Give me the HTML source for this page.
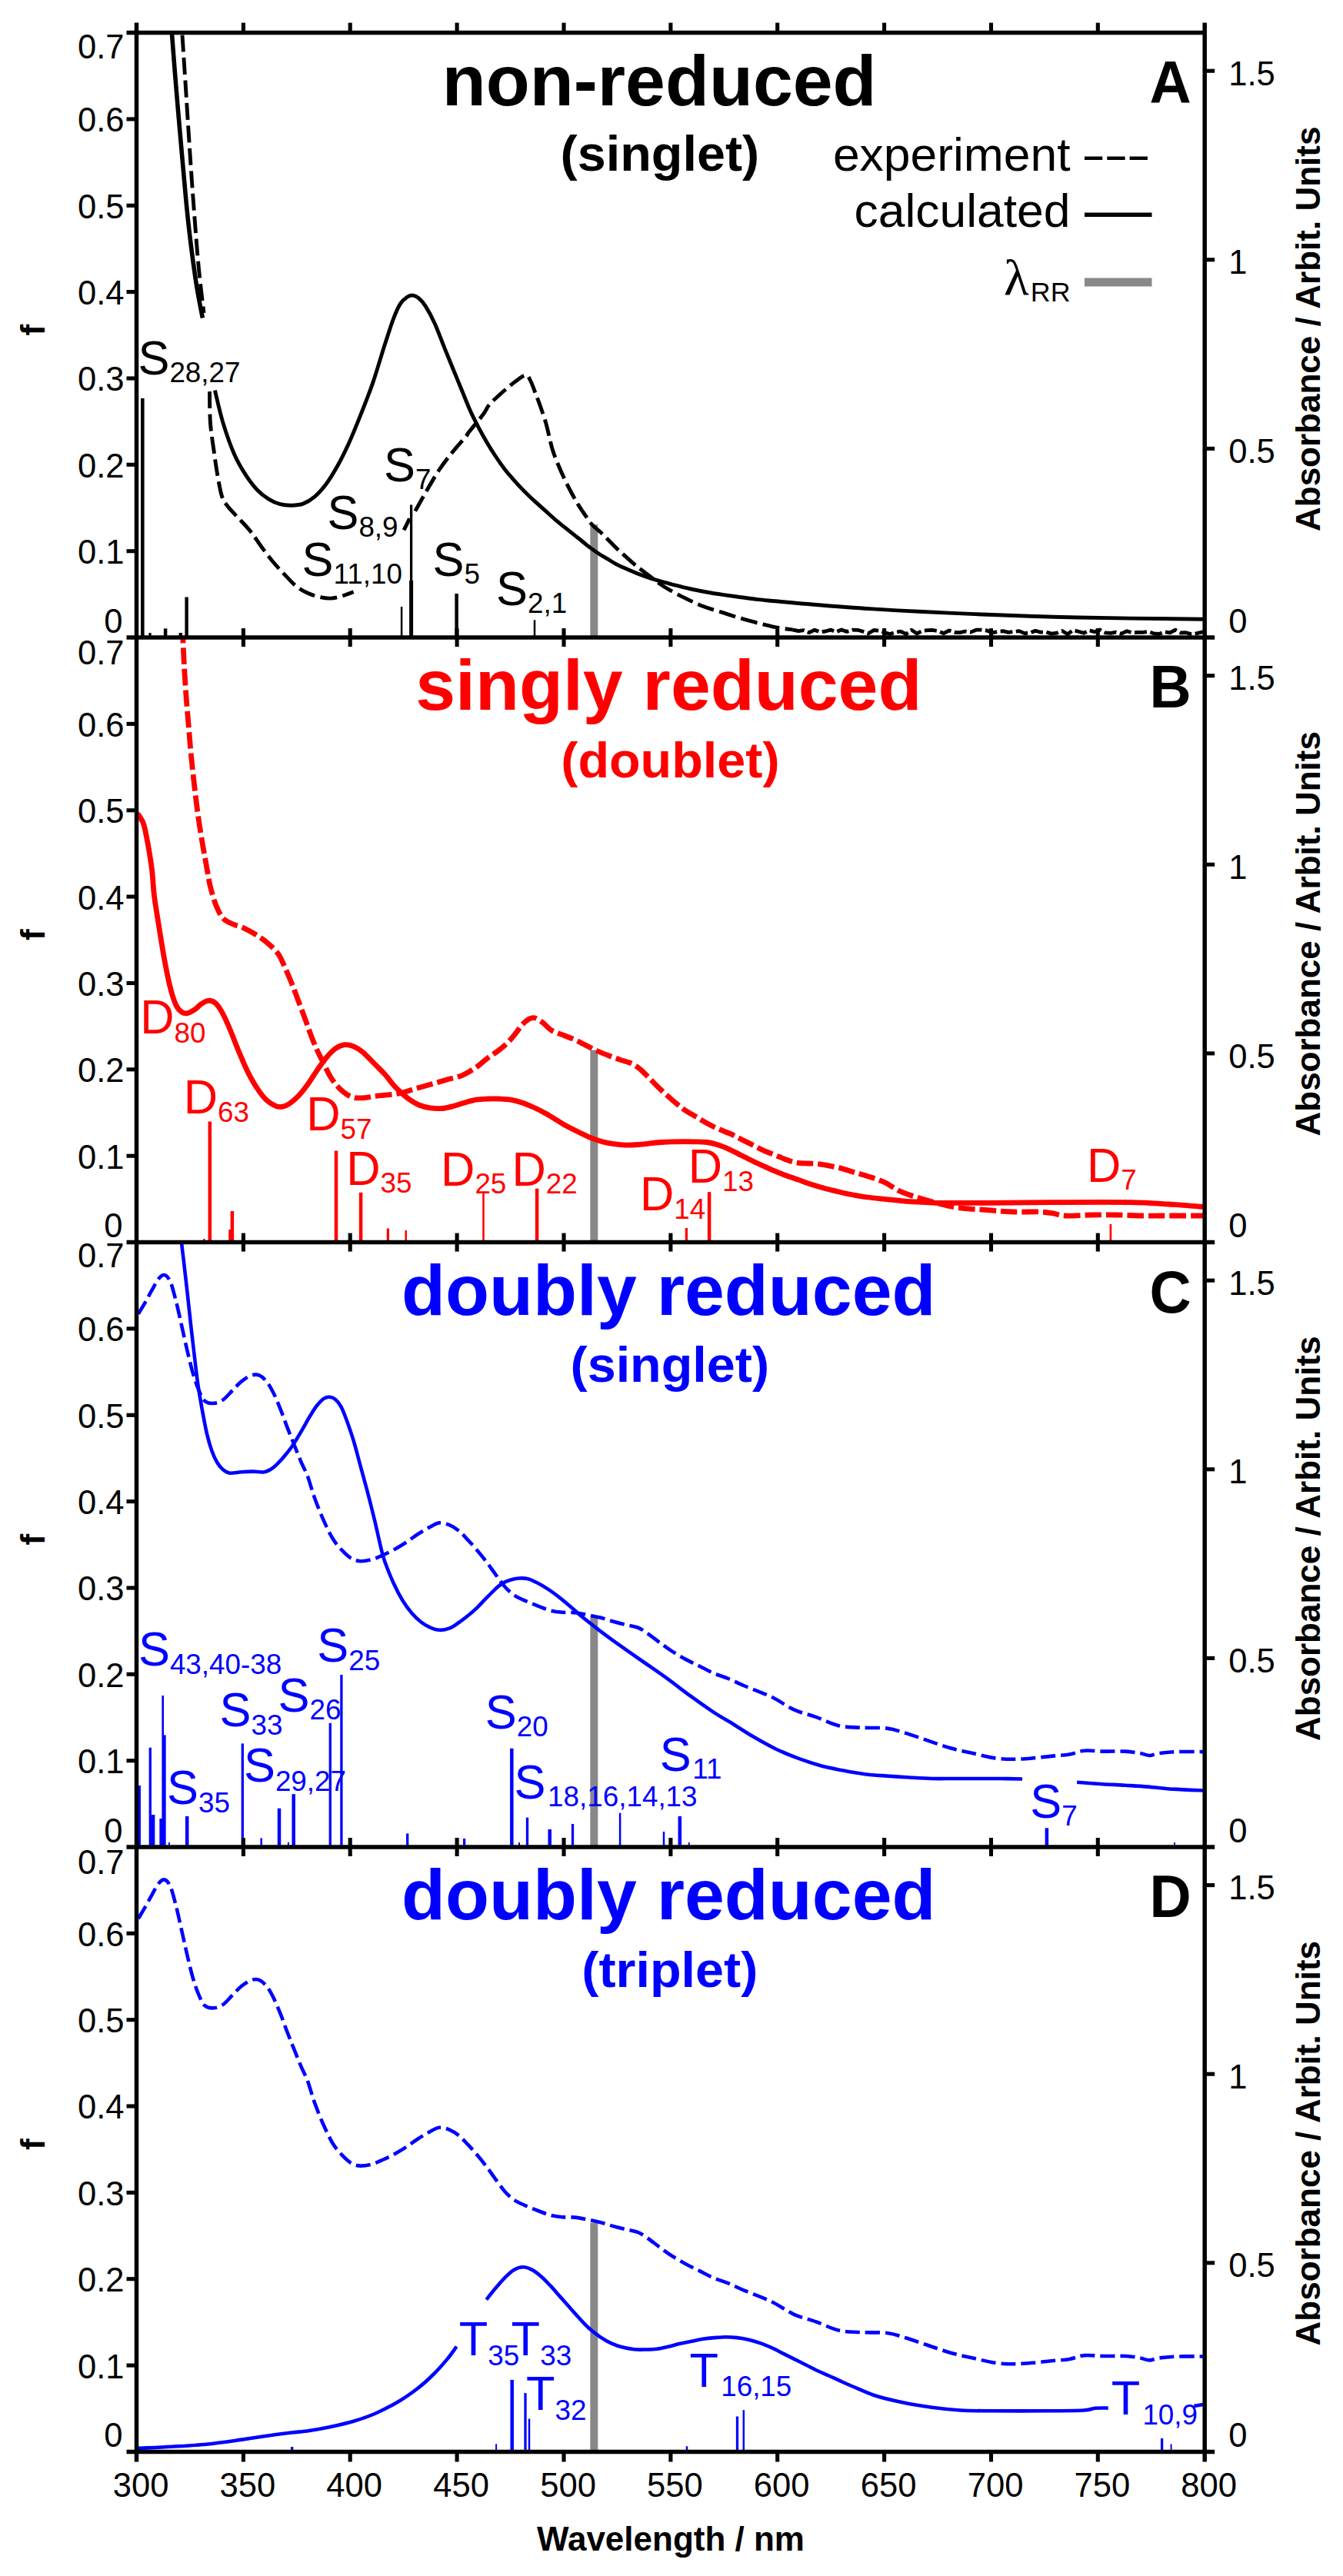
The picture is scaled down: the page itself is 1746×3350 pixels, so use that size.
<!DOCTYPE html>
<html><head><meta charset="utf-8"><title>UV-vis spectra</title>
<style>html,body{margin:0;padding:0;background:#fff}svg{display:block}</style></head>
<body>
<svg width="1746" height="3350" viewBox="0 0 1746 3350" font-family="'Liberation Sans', Arial, Helvetica, sans-serif">
<rect width="1746" height="3350" fill="#fff"/>
<defs>
<clipPath id="cp0"><rect x="177.5" y="42.6" width="1388.7" height="786.4"/></clipPath>
<clipPath id="cp1"><rect x="177.5" y="829.1" width="1388.7" height="786.4"/></clipPath>
<clipPath id="cp2"><rect x="177.5" y="1615.6" width="1388.7" height="786.4"/></clipPath>
<clipPath id="cp3"><rect x="177.5" y="2402.0" width="1388.7" height="786.4"/></clipPath>
</defs>
<line x1="772.3" y1="682.0" x2="772.3" y2="829.0" stroke="#888" stroke-width="10"/>
<path d="M221.5,20.0 C221.8,24.3 222.3,28.9 223.6,45.6 C224.9,62.3 227.4,95.1 229.5,120.0 C231.6,144.9 233.9,171.3 236.0,195.0 C238.1,218.7 240.3,244.5 242.0,262.0 C243.7,279.5 244.5,287.0 246.0,300.0 C247.5,313.0 249.2,326.7 251.0,340.0 C252.8,353.3 254.9,367.8 257.0,380.0 C259.1,392.2 262.3,407.9 263.4,413.5" fill="none" stroke="#000" stroke-width="5.6" clip-path="url(#cp0)" stroke-linejoin="round"/>
<path d="M237.0,45.6 C237.9,59.7 240.7,101.8 242.5,130.0 C244.3,158.2 246.2,188.3 248.0,215.0 C249.8,241.7 251.8,267.5 253.5,290.0 C255.2,312.5 256.6,330.5 258.5,350.0 C260.4,369.5 263.9,397.5 265.0,407.0" fill="none" stroke="#000" stroke-width="4.9" stroke-dasharray="22 7.5" stroke-linejoin="round"/>
<path d="M279.4,507.7 C281.1,514.6 285.6,535.5 289.8,549.4 C294.0,563.3 299.7,579.6 304.7,591.0 C309.7,602.4 314.6,610.2 319.6,617.9 C324.6,625.6 329.5,632.0 334.5,637.2 C339.5,642.4 344.4,646.0 349.4,649.1 C354.3,652.2 359.2,654.4 364.2,655.7 C369.1,657.1 374.1,657.3 379.1,657.2 C384.1,657.1 389.0,657.0 394.0,655.1 C399.0,653.2 403.9,650.3 408.9,646.1 C413.9,641.9 418.8,636.5 423.8,629.8 C428.8,623.1 433.7,614.9 438.7,606.0 C443.7,597.1 448.6,587.1 453.6,576.2 C458.6,565.3 463.3,553.5 468.5,540.4 C473.7,527.3 479.5,512.9 484.7,497.9 C489.9,482.9 495.1,464.1 499.6,450.2 C504.1,436.3 508.0,423.7 511.5,414.5 C515.0,405.3 517.4,399.8 520.4,395.1 C523.4,390.4 526.7,388.0 529.4,386.2 C532.1,384.4 534.3,383.9 536.8,384.1 C539.3,384.4 541.5,385.4 544.2,387.7 C546.9,390.0 549.7,392.7 553.2,398.1 C556.7,403.6 561.1,411.7 565.1,420.4 C569.1,429.1 573.0,440.3 577.0,450.2 C581.0,460.1 585.1,470.1 588.9,479.5 C592.7,488.9 596.3,497.5 600.0,506.5 C603.7,515.5 607.5,525.4 611.2,533.7 C614.9,542.0 618.6,549.0 622.3,556.1 C626.0,563.2 629.8,569.9 633.5,576.2 C637.2,582.5 641.0,588.4 644.7,594.0 C648.4,599.6 652.1,604.9 655.8,609.7 C659.5,614.6 663.3,618.8 667.0,623.1 C670.7,627.4 674.5,631.5 678.2,635.4 C681.9,639.3 685.7,643.0 689.4,646.5 C693.1,650.0 696.8,653.2 700.5,656.6 C704.2,660.0 708.0,663.2 711.7,666.6 C715.4,670.0 719.2,673.5 722.9,676.7 C726.6,679.9 730.3,682.6 734.0,685.6 C737.7,688.6 741.5,691.6 745.2,694.6 C748.9,697.6 752.7,700.5 756.4,703.5 C760.1,706.5 763.8,709.6 767.5,712.4 C771.2,715.2 775.0,717.8 778.7,720.2 C782.4,722.6 786.2,724.7 789.9,726.9 C793.6,729.1 797.3,731.6 801.0,733.6 C804.7,735.6 807.5,736.7 812.2,738.8 C816.9,740.9 822.8,743.6 829.4,746.1 C836.0,748.6 844.3,751.6 851.7,753.9 C859.1,756.2 866.5,758.1 874.0,760.0 C881.5,761.9 888.9,763.8 896.4,765.5 C903.9,767.2 911.3,768.6 918.7,770.0 C926.1,771.4 933.5,772.5 941.0,773.6 C948.5,774.7 955.9,775.7 963.4,776.7 C970.9,777.7 978.3,778.8 985.7,779.6 C993.1,780.5 999.0,780.9 1008.0,781.8 C1017.0,782.6 1019.0,783.0 1040.0,784.7 C1061.0,786.4 1096.0,789.6 1134.0,791.9 C1172.0,794.2 1223.3,796.8 1268.0,798.6 C1312.7,800.5 1352.5,801.9 1402.0,803.0 C1451.5,804.1 1537.8,804.9 1565.0,805.3" fill="none" stroke="#000" stroke-width="4.9" stroke-linejoin="round"/>
<path d="M272.5,509.1 C272.6,515.8 272.5,536.7 273.4,549.4 C274.3,562.1 276.4,574.2 277.9,585.1 C279.4,596.0 280.6,605.0 282.3,614.9 C284.0,624.8 286.1,637.5 288.3,644.7 C290.5,651.9 292.0,653.2 295.7,658.1 C299.4,663.0 305.6,669.0 310.6,674.4 C315.6,679.8 320.5,684.6 325.5,690.8 C330.5,697.0 335.4,705.0 340.4,711.7 C345.4,718.4 350.3,725.0 355.3,731.0 C360.3,737.0 365.2,742.2 370.2,747.4 C375.2,752.6 380.1,758.3 385.1,762.3 C390.1,766.3 395.0,768.9 400.0,771.2 C405.0,773.5 409.9,775.1 414.9,776.3 C419.9,777.4 424.8,778.3 429.8,778.1 C434.8,777.9 439.7,776.5 444.7,775.1 C449.7,773.7 457.1,770.7 459.6,769.8" fill="none" stroke="#000" stroke-width="4.9" stroke-dasharray="22 7.5" stroke-linejoin="round"/>
<path d="M525.1,689.3 L532.5,674.4" fill="none" stroke="#000" stroke-width="4.9" stroke-dasharray="22 7.5" stroke-linejoin="round"/>
<path d="M539.8,664.6 C542.0,660.6 548.0,649.7 553.2,640.8 C558.4,631.9 565.0,619.9 571.0,611.0 C577.0,602.1 582.9,594.6 588.9,587.2 C594.9,579.8 603.5,570.5 606.8,566.4 C610.1,562.3 605.4,567.3 608.9,562.8 C612.4,558.3 623.4,545.3 627.9,539.3 C632.4,533.3 632.5,530.7 635.7,526.8 C638.9,522.9 642.0,520.2 646.9,515.8 C651.8,511.4 658.8,504.8 664.8,500.2 C670.8,495.6 678.6,488.8 682.7,487.9 C686.8,487.0 687.2,490.7 689.4,494.6 C691.6,498.5 693.9,505.6 696.1,511.4 C698.3,517.2 700.6,522.9 702.8,529.2 C705.0,535.5 707.6,543.1 709.5,549.4 C711.4,555.7 712.4,561.2 713.9,567.2 C715.4,573.2 716.5,579.1 718.4,585.1 C720.3,591.1 722.5,596.7 725.1,603.0 C727.7,609.3 731.0,616.8 734.0,623.1 C737.0,629.4 740.0,635.4 743.0,641.0 C746.0,646.6 748.9,651.8 751.9,656.6 C754.9,661.4 757.8,665.7 760.8,670.0 C763.8,674.3 766.4,678.6 769.8,682.3 C773.1,686.0 777.2,688.8 780.9,692.3 C784.6,695.8 788.4,699.8 792.1,703.5 C795.8,707.2 799.6,711.2 803.3,714.7 C807.0,718.2 810.6,721.3 814.4,724.7 C818.2,728.1 820.9,730.8 826.0,734.9 C831.1,739.0 838.5,744.6 845.0,749.5 C851.5,754.4 857.6,759.4 865.1,764.0 C872.6,768.6 881.5,773.3 889.7,777.4 C897.9,781.5 906.0,785.3 914.2,788.5 C922.4,791.7 930.6,793.8 938.8,796.4 C947.0,799.0 955.2,801.8 963.4,804.2 C971.6,806.6 979.8,808.9 988.0,810.9 C996.2,812.9 1005.5,815.2 1012.5,816.5 C1019.5,817.8 1027.1,818.4 1030.0,818.8" fill="none" stroke="#000" stroke-width="4.9" stroke-dasharray="22 7.5" stroke-linejoin="round"/>
<path d="M1030.0,818.8 L1038.0,820.7 L1045.0,819.7 L1052.0,822.7 L1059.0,819.2 L1066.0,822.0 L1073.0,821.0 L1080.0,819.1 L1087.0,821.8 L1094.0,819.0 L1101.0,821.4 L1108.0,819.2 L1115.0,819.3 L1122.0,821.3 L1129.0,823.8 L1136.0,819.5 L1143.0,820.1 L1150.0,822.6 L1157.0,824.5 L1164.0,822.3 L1171.0,821.2 L1178.0,824.7 L1185.0,819.1 L1192.0,824.0 L1199.0,820.5 L1206.0,819.7 L1213.0,819.5 L1220.0,820.7 L1227.0,823.7 L1234.0,819.9 L1241.0,822.3 L1248.0,822.6 L1255.0,821.0 L1262.0,822.1 L1269.0,819.2 L1276.0,819.2 L1283.0,820.0 L1290.0,822.9 L1297.0,821.4 L1304.0,820.7 L1311.0,822.3 L1318.0,821.5 L1325.0,820.6 L1332.0,823.6 L1339.0,823.0 L1346.0,820.3 L1353.0,822.2 L1360.0,822.0 L1367.0,824.1 L1374.0,823.2 L1381.0,820.5 L1388.0,824.7 L1395.0,819.5 L1402.0,821.3 L1409.0,823.3 L1416.0,819.7 L1423.0,821.7 L1430.0,819.0 L1437.0,822.8 L1444.0,823.4 L1451.0,822.2 L1458.0,824.1 L1465.0,820.7 L1472.0,823.0 L1479.0,822.4 L1486.0,822.3 L1493.0,821.5 L1500.0,823.8 L1507.0,824.5 L1514.0,821.6 L1521.0,822.8 L1528.0,819.2 L1535.0,823.0 L1542.0,822.7 L1549.0,824.8 L1556.0,823.7 L1565.0,821.5" fill="none" stroke="#000" stroke-width="4.8" stroke-dasharray="16 4.5" stroke-linejoin="round"/>
<line x1="185.3" y1="518.0" x2="185.3" y2="829.0" stroke="#000" stroke-width="4.6"/>
<line x1="195.0" y1="823.0" x2="195.0" y2="829.0" stroke="#000" stroke-width="3.3"/>
<line x1="215.1" y1="817.4" x2="215.1" y2="829.0" stroke="#000" stroke-width="4.5"/>
<line x1="234.8" y1="823.0" x2="234.8" y2="829.0" stroke="#000" stroke-width="4.4"/>
<line x1="242.6" y1="776.5" x2="242.6" y2="829.0" stroke="#000" stroke-width="4.4"/>
<line x1="522.1" y1="789.0" x2="522.1" y2="829.0" stroke="#000" stroke-width="2.5"/>
<line x1="534.6" y1="656.6" x2="534.6" y2="829.0" stroke="#000" stroke-width="3.3"/>
<line x1="534.6" y1="755.0" x2="534.6" y2="829.0" stroke="#000" stroke-width="5"/>
<line x1="593.6" y1="772.0" x2="593.6" y2="829.0" stroke="#000" stroke-width="4.5"/>
<line x1="695.0" y1="806.3" x2="695.0" y2="829.0" stroke="#000" stroke-width="2.5"/>
<text transform="translate(179.4,487.1) scale(1.023,1.045)" font-size="60" fill="#000">S</text>
<text transform="translate(220.4,497.0) scale(1.023,1.03)" font-size="36" fill="#000">28,27</text>
<text transform="translate(498.9,625.9) scale(1.023,1.045)" font-size="60" fill="#000">S</text>
<text transform="translate(539.9,635.8) scale(1.023,1.03)" font-size="36" fill="#000">7</text>
<text transform="translate(425.4,688.4) scale(1.023,1.045)" font-size="60" fill="#000">S</text>
<text transform="translate(466.4,698.3) scale(1.023,1.03)" font-size="36" fill="#000">8,9</text>
<text transform="translate(392.6,748.9) scale(1.023,1.045)" font-size="60" fill="#000">S</text>
<text transform="translate(433.6,758.8) scale(1.023,1.03)" font-size="36" fill="#000">11,10</text>
<text transform="translate(562.4,748.9) scale(1.023,1.045)" font-size="60" fill="#000">S</text>
<text transform="translate(603.4,758.8) scale(1.023,1.03)" font-size="36" fill="#000">5</text>
<text transform="translate(645.1,786.6) scale(1.023,1.045)" font-size="60" fill="#000">S</text>
<text transform="translate(686.1,796.5) scale(1.023,1.03)" font-size="36" fill="#000">2,1</text>
<line x1="772.3" y1="1365.5" x2="772.3" y2="1615.5" stroke="#888" stroke-width="10"/>
<path d="M178.5,1058.5 C178.9,1058.9 179.6,1058.5 181.0,1061.0 C182.4,1063.5 185.2,1066.2 187.2,1073.2 C189.2,1080.2 191.4,1093.1 193.2,1103.0 C194.9,1112.9 196.5,1122.2 197.7,1132.7 C198.9,1143.2 199.1,1153.7 200.6,1165.7 C202.1,1177.7 204.4,1190.6 206.6,1204.5 C208.8,1218.4 211.5,1235.7 214.0,1249.1 C216.5,1262.5 219.0,1275.2 221.5,1284.9 C224.0,1294.6 226.4,1302.0 228.9,1307.2 C231.4,1312.4 233.9,1314.5 236.4,1316.2 C238.9,1317.9 241.1,1318.1 243.8,1317.6 C246.5,1317.1 249.8,1315.2 252.8,1313.2 C255.8,1311.2 258.7,1307.7 261.7,1305.7 C264.7,1303.7 267.6,1301.5 270.6,1301.3 C273.6,1301.0 276.6,1301.7 279.6,1304.2 C282.6,1306.7 285.3,1310.5 288.5,1316.2 C291.7,1321.9 295.2,1329.8 298.9,1338.5 C302.6,1347.2 306.8,1358.9 310.8,1368.3 C314.8,1377.7 318.7,1387.2 322.7,1395.1 C326.7,1403.0 330.7,1410.0 334.7,1415.9 C338.7,1421.9 342.6,1427.1 346.6,1430.8 C350.6,1434.5 355.0,1436.9 358.5,1438.3 C362.0,1439.7 364.4,1439.7 367.4,1439.2 C370.4,1438.7 372.9,1437.7 376.4,1435.3 C379.9,1432.9 384.3,1429.1 388.3,1424.9 C392.3,1420.7 396.2,1415.5 400.2,1410.0 C404.2,1404.5 408.1,1397.8 412.1,1392.1 C416.1,1386.4 420.0,1380.4 424.0,1375.7 C428.0,1371.0 431.9,1366.6 435.9,1363.8 C439.9,1361.0 443.8,1359.2 447.8,1358.7 C451.8,1358.2 455.8,1359.2 459.8,1360.8 C463.8,1362.4 467.2,1364.6 471.7,1368.3 C476.2,1372.0 481.9,1378.5 486.6,1383.2 C491.3,1388.0 495.3,1391.5 500.0,1396.8 C504.7,1402.0 509.9,1409.5 514.9,1414.7 C519.9,1419.9 524.8,1424.4 529.8,1428.1 C534.8,1431.8 539.7,1434.9 544.7,1437.0 C549.7,1439.1 554.6,1440.2 559.6,1440.9 C564.6,1441.7 569.5,1441.9 574.5,1441.5 C579.5,1441.1 584.4,1439.8 589.4,1438.5 C594.4,1437.2 599.2,1435.4 604.2,1434.0 C609.2,1432.6 614.1,1430.9 619.1,1430.1 C624.1,1429.3 629.0,1429.2 634.0,1429.0 C639.0,1428.8 643.9,1428.8 648.9,1429.0 C653.9,1429.2 658.8,1429.3 663.8,1430.1 C668.8,1430.9 673.7,1432.3 678.7,1434.0 C683.7,1435.7 688.6,1437.8 693.6,1440.0 C698.6,1442.2 703.5,1444.7 708.5,1447.4 C713.5,1450.1 718.4,1453.4 723.4,1456.4 C728.4,1459.4 733.3,1462.6 738.3,1465.3 C743.3,1468.0 748.2,1470.3 753.2,1472.7 C758.2,1475.1 763.1,1477.6 768.1,1479.6 C773.1,1481.6 778.0,1483.4 783.0,1484.7 C788.0,1486.0 792.8,1486.9 797.8,1487.6 C802.8,1488.3 807.4,1488.9 812.7,1489.1 C818.0,1489.2 822.0,1489.1 829.8,1488.5 C837.6,1487.9 849.7,1486.1 859.6,1485.5 C869.5,1484.9 879.5,1484.7 889.4,1484.7 C899.3,1484.7 911.7,1484.8 919.1,1485.5 C926.5,1486.2 929.0,1487.5 934.0,1489.1 C939.0,1490.7 943.9,1492.9 948.9,1495.1 C953.9,1497.3 958.8,1500.0 963.8,1502.5 C968.8,1505.0 973.7,1507.6 978.7,1510.0 C983.7,1512.4 988.6,1514.6 993.6,1516.8 C998.6,1519.0 1003.5,1521.3 1008.5,1523.4 C1013.5,1525.5 1018.4,1527.5 1023.4,1529.3 C1028.4,1531.1 1033.3,1532.7 1038.3,1534.4 C1043.3,1536.2 1048.2,1538.2 1053.2,1539.8 C1058.2,1541.4 1063.1,1542.8 1068.1,1544.2 C1073.1,1545.6 1078.0,1546.8 1083.0,1548.1 C1088.0,1549.3 1092.8,1550.6 1097.8,1551.7 C1102.8,1552.8 1107.7,1553.7 1112.7,1554.6 C1117.7,1555.5 1121.4,1556.2 1127.6,1557.0 C1133.8,1557.8 1140.7,1558.4 1150.0,1559.3 C1159.3,1560.2 1172.3,1561.8 1183.5,1562.6 C1194.7,1563.4 1200.2,1564.0 1217.0,1564.3 C1233.8,1564.6 1258.9,1564.4 1284.0,1564.3 C1309.1,1564.2 1337.1,1563.7 1367.8,1563.6 C1398.5,1563.5 1443.2,1563.2 1468.3,1563.6 C1493.4,1564.0 1502.6,1565.0 1518.6,1566.0 C1534.5,1567.0 1556.4,1568.8 1564.0,1569.3" fill="none" stroke="#f00" stroke-width="6.8" stroke-linejoin="round"/>
<path d="M237.5,815.0 C237.6,817.8 237.6,823.6 237.9,831.9 C238.2,840.2 238.7,851.8 239.4,864.7 C240.1,877.6 241.3,896.0 242.3,909.4 C243.3,922.8 244.3,933.2 245.3,945.1 C246.3,957.0 247.1,967.9 248.3,980.8 C249.6,993.7 251.3,1009.6 252.8,1022.5 C254.3,1035.4 255.5,1045.9 257.2,1058.3 C258.9,1070.7 261.2,1085.1 263.2,1097.0 C265.2,1108.9 267.4,1120.3 269.1,1129.8 C270.8,1139.3 271.6,1145.8 273.6,1153.8 C275.6,1161.8 278.3,1171.0 281.0,1177.7 C283.7,1184.4 286.5,1190.0 290.0,1194.0 C293.5,1198.0 297.4,1199.4 301.9,1201.5 C306.4,1203.6 311.8,1204.6 316.8,1206.8 C321.8,1209.0 326.7,1211.8 331.7,1214.9 C336.7,1218.0 341.6,1221.1 346.6,1225.3 C351.6,1229.5 357.5,1234.7 361.5,1240.2 C365.5,1245.7 367.4,1251.6 370.4,1258.1 C373.4,1264.5 376.3,1271.5 379.3,1278.9 C382.3,1286.3 385.3,1294.8 388.3,1302.7 C391.3,1310.7 394.5,1319.1 397.2,1326.6 C399.9,1334.0 402.2,1341.0 404.7,1347.4 C407.2,1353.9 409.4,1359.3 412.1,1365.3 C414.8,1371.3 418.0,1377.2 421.0,1383.2 C424.0,1389.2 426.5,1395.5 430.0,1401.0 C433.5,1406.5 437.4,1411.7 441.9,1415.9 C446.4,1420.1 451.8,1424.4 456.8,1426.4 C461.8,1428.4 465.8,1428.0 471.7,1427.8 C477.6,1427.5 484.8,1425.9 492.5,1424.9 C500.2,1424.0 510.2,1423.5 517.9,1422.1 C525.6,1420.6 531.8,1418.2 538.7,1416.2 C545.7,1414.2 552.7,1412.2 559.6,1410.2 C566.5,1408.2 573.5,1406.2 580.4,1404.2 C587.3,1402.2 594.8,1401.0 601.3,1398.3 C607.8,1395.6 613.6,1391.6 619.1,1387.9 C624.6,1384.2 629.0,1379.6 634.0,1375.9 C639.0,1372.2 644.4,1369.0 648.9,1365.5 C653.4,1362.0 657.3,1358.6 660.8,1355.1 C664.3,1351.6 666.8,1348.4 669.8,1344.7 C672.8,1341.0 675.7,1336.0 678.7,1332.8 C681.7,1329.6 684.9,1326.8 687.6,1325.3 C690.3,1323.8 692.1,1323.0 695.1,1323.8 C698.1,1324.5 701.8,1327.1 705.5,1329.8 C709.2,1332.5 712.9,1337.5 717.4,1340.2 C721.9,1342.9 727.3,1344.2 732.3,1346.2 C737.3,1348.2 742.2,1349.9 747.2,1352.1 C752.2,1354.3 757.1,1357.1 762.1,1359.6 C767.1,1362.1 772.0,1364.8 777.0,1367.0 C782.0,1369.2 786.9,1371.1 791.9,1373.0 C796.9,1374.9 801.8,1376.7 806.8,1378.4 C811.8,1380.1 817.4,1381.3 821.7,1383.4 C826.0,1385.5 829.0,1387.6 832.8,1390.8 C836.6,1394.0 840.2,1398.2 844.7,1402.7 C849.2,1407.2 854.6,1412.9 859.6,1417.6 C864.6,1422.3 869.5,1426.8 874.5,1431.0 C879.5,1435.2 884.4,1439.5 889.4,1443.0 C894.4,1446.5 899.2,1448.9 904.2,1451.9 C909.2,1454.9 914.1,1458.1 919.1,1460.8 C924.1,1463.5 929.0,1466.1 934.0,1468.3 C939.0,1470.5 943.9,1472.0 948.9,1474.2 C953.9,1476.4 958.8,1479.2 963.8,1481.7 C968.8,1484.2 973.7,1486.6 978.7,1489.1 C983.7,1491.6 988.6,1494.4 993.6,1496.6 C998.6,1498.8 1003.5,1500.5 1008.5,1502.5 C1013.5,1504.5 1018.9,1506.9 1023.4,1508.5 C1027.9,1510.1 1030.8,1511.2 1035.3,1512.0 C1039.8,1512.8 1045.7,1512.8 1050.2,1513.0 C1054.7,1513.2 1057.6,1513.0 1062.1,1513.5 C1066.6,1514.0 1072.0,1515.0 1077.0,1515.9 C1082.0,1516.8 1086.9,1517.7 1091.9,1518.9 C1096.9,1520.2 1101.8,1521.9 1106.8,1523.4 C1111.8,1524.9 1116.7,1526.3 1121.7,1527.8 C1126.7,1529.3 1131.6,1530.5 1136.6,1532.3 C1141.5,1534.0 1145.8,1535.5 1151.4,1538.3 C1157.0,1541.1 1163.1,1546.0 1170.1,1549.2 C1177.1,1552.4 1185.8,1555.1 1193.6,1557.6 C1201.4,1560.1 1208.6,1562.2 1217.0,1564.3 C1225.4,1566.4 1232.6,1568.7 1243.8,1570.3 C1255.0,1571.9 1271.7,1572.8 1284.0,1573.7 C1296.3,1574.7 1306.3,1575.6 1317.5,1576.0 C1328.7,1576.4 1342.6,1575.7 1351.0,1576.0 C1359.4,1576.3 1362.2,1576.9 1367.8,1577.7 C1373.4,1578.5 1376.1,1580.6 1384.5,1581.0 C1392.9,1581.4 1406.8,1580.2 1418.0,1580.0 C1429.2,1579.8 1440.4,1579.8 1451.6,1580.0 C1462.8,1580.2 1473.9,1580.8 1485.1,1581.0 C1496.3,1581.2 1505.4,1581.0 1518.6,1581.0 C1531.8,1581.0 1556.4,1581.0 1564.0,1581.0" fill="none" stroke="#f00" stroke-width="6.8" stroke-dasharray="21.5 6" clip-path="url(#cp1)" stroke-linejoin="round"/>
<line x1="265.4" y1="1611.0" x2="265.4" y2="1615.5" stroke="#f00" stroke-width="2.5"/>
<line x1="272.8" y1="1458.5" x2="272.8" y2="1615.5" stroke="#f00" stroke-width="4.5"/>
<line x1="298.9" y1="1599.0" x2="298.9" y2="1615.5" stroke="#f00" stroke-width="3.3"/>
<line x1="301.9" y1="1575.0" x2="301.9" y2="1615.5" stroke="#f00" stroke-width="4.5"/>
<line x1="437.0" y1="1496.5" x2="437.0" y2="1615.5" stroke="#f00" stroke-width="4.5"/>
<line x1="469.1" y1="1550.8" x2="469.1" y2="1615.5" stroke="#f00" stroke-width="4.5"/>
<line x1="504.4" y1="1597.5" x2="504.4" y2="1615.5" stroke="#f00" stroke-width="3.3"/>
<line x1="527.7" y1="1600.0" x2="527.7" y2="1615.5" stroke="#f00" stroke-width="2.5"/>
<line x1="628.5" y1="1552.0" x2="628.5" y2="1615.5" stroke="#f00" stroke-width="2.5"/>
<line x1="698.1" y1="1545.7" x2="698.1" y2="1615.5" stroke="#f00" stroke-width="4.5"/>
<line x1="892.4" y1="1597.0" x2="892.4" y2="1615.5" stroke="#f00" stroke-width="3.3"/>
<line x1="922.1" y1="1550.2" x2="922.1" y2="1615.5" stroke="#f00" stroke-width="4.5"/>
<line x1="1443.9" y1="1591.8" x2="1443.9" y2="1615.5" stroke="#f00" stroke-width="2.7"/>
<text transform="translate(182.2,1344.4) scale(1.023,1.04)" font-size="60" fill="#f00">D</text>
<text transform="translate(226.5,1356.4) scale(1.023,1.03)" font-size="36" fill="#f00">80</text>
<text transform="translate(238.8,1448.1) scale(1.023,1.04)" font-size="60" fill="#f00">D</text>
<text transform="translate(283.1,1459.1) scale(1.023,1.03)" font-size="36" fill="#f00">63</text>
<text transform="translate(398.2,1469.5) scale(1.023,1.04)" font-size="60" fill="#f00">D</text>
<text transform="translate(442.5,1480.9) scale(1.023,1.03)" font-size="36" fill="#f00">57</text>
<text transform="translate(450.3,1540.7) scale(1.023,1.04)" font-size="60" fill="#f00">D</text>
<text transform="translate(494.6,1550.7) scale(1.023,1.03)" font-size="36" fill="#f00">35</text>
<text transform="translate(573.1,1541.5) scale(1.023,1.04)" font-size="60" fill="#f00">D</text>
<text transform="translate(617.4,1551.5) scale(1.023,1.03)" font-size="36" fill="#f00">25</text>
<text transform="translate(665.4,1541.5) scale(1.023,1.04)" font-size="60" fill="#f00">D</text>
<text transform="translate(709.7,1551.5) scale(1.023,1.03)" font-size="36" fill="#f00">22</text>
<text transform="translate(832.0,1574.0) scale(1.023,1.04)" font-size="60" fill="#f00">D</text>
<text transform="translate(876.3,1584.8) scale(1.023,1.03)" font-size="36" fill="#f00">14</text>
<text transform="translate(894.8,1538.3) scale(1.023,1.04)" font-size="60" fill="#f00">D</text>
<text transform="translate(939.1,1549.3) scale(1.023,1.03)" font-size="36" fill="#f00">13</text>
<text transform="translate(1413.0,1536.8) scale(1.023,1.04)" font-size="60" fill="#f00">D</text>
<text transform="translate(1457.3,1546.9) scale(1.023,1.03)" font-size="36" fill="#f00">7</text>
<line x1="772.3" y1="2102.8" x2="772.3" y2="2402.0" stroke="#888" stroke-width="10"/>
<path d="M234.5,1600.0 C234.8,1603.2 235.6,1612.0 236.4,1619.4 C237.2,1626.9 238.2,1634.0 239.4,1644.7 C240.6,1655.4 242.3,1670.0 243.8,1683.4 C245.3,1696.8 246.8,1711.7 248.3,1725.1 C249.8,1738.5 251.3,1751.4 252.8,1763.8 C254.3,1776.2 255.5,1787.7 257.2,1799.6 C258.9,1811.5 261.2,1824.4 263.2,1835.3 C265.2,1846.2 267.1,1856.7 269.1,1865.1 C271.1,1873.5 272.9,1879.7 275.1,1885.9 C277.3,1892.1 280.0,1898.1 282.5,1902.3 C285.0,1906.5 287.3,1909.0 290.0,1911.2 C292.7,1913.4 294.9,1915.2 298.9,1915.7 C302.9,1916.2 308.8,1914.6 313.8,1914.2 C318.8,1913.8 323.7,1913.6 328.7,1913.6 C333.7,1913.6 339.1,1915.1 343.6,1914.2 C348.1,1913.3 351.5,1911.3 355.5,1908.3 C359.5,1905.3 363.4,1900.9 367.4,1896.4 C371.4,1891.9 375.3,1887.2 379.3,1881.5 C383.3,1875.8 387.3,1868.8 391.3,1862.1 C395.3,1855.4 399.7,1847.0 403.2,1841.3 C406.7,1835.6 409.1,1831.5 412.1,1827.8 C415.1,1824.1 418.3,1820.7 421.0,1818.9 C423.7,1817.1 426.0,1816.7 428.5,1816.8 C431.0,1816.9 433.4,1817.7 435.9,1819.8 C438.4,1821.9 440.9,1824.7 443.4,1829.3 C445.9,1833.9 448.1,1839.8 450.8,1847.2 C453.5,1854.7 456.8,1864.1 459.8,1874.0 C462.8,1883.9 465.7,1895.9 468.7,1906.8 C471.7,1917.7 474.6,1928.1 477.6,1939.5 C480.6,1950.9 484.1,1965.0 486.6,1975.3 C489.1,1985.5 490.4,1992.1 492.5,2001.0 C494.6,2009.9 496.3,2018.9 499.5,2028.5 C502.7,2038.1 507.5,2049.7 511.5,2058.5 C515.5,2067.3 519.5,2074.9 523.5,2081.5 C527.5,2088.1 531.5,2093.3 535.5,2098.0 C539.5,2102.7 543.6,2106.4 547.5,2109.5 C551.4,2112.6 555.0,2114.6 559.0,2116.3 C563.0,2118.0 567.0,2119.6 571.3,2119.8 C575.6,2120.0 580.5,2119.0 584.7,2117.4 C588.9,2115.8 592.6,2112.7 596.6,2110.0 C600.6,2107.3 604.5,2104.2 608.5,2101.0 C612.5,2097.8 616.4,2094.4 620.4,2090.6 C624.4,2086.8 628.3,2082.2 632.3,2078.2 C636.3,2074.1 640.8,2069.5 644.2,2066.3 C647.7,2063.2 650.0,2061.2 653.0,2059.3 C656.0,2057.4 658.9,2056.1 662.5,2055.0 C666.1,2053.9 670.5,2052.8 674.5,2052.5 C678.5,2052.2 682.4,2052.2 686.4,2053.2 C690.4,2054.2 693.8,2056.0 698.3,2058.3 C702.8,2060.6 708.2,2063.9 713.2,2067.2 C718.2,2070.5 723.1,2074.2 728.1,2078.1 C733.1,2082.0 738.0,2086.3 743.0,2090.5 C748.0,2094.7 751.9,2098.6 757.9,2103.5 C763.9,2108.4 770.3,2113.4 778.7,2119.8 C787.1,2126.2 798.6,2134.6 808.5,2141.7 C818.4,2148.8 828.4,2155.6 838.3,2162.5 C848.2,2169.4 858.2,2176.2 868.1,2183.4 C878.0,2190.6 887.9,2198.5 897.8,2205.7 C907.7,2212.9 918.4,2220.5 927.6,2226.6 C936.8,2232.7 944.4,2236.7 953.0,2242.0 C961.6,2247.3 969.8,2252.9 979.0,2258.3 C988.2,2263.7 998.4,2269.5 1008.1,2274.2 C1017.8,2278.9 1027.4,2282.8 1037.1,2286.4 C1046.8,2290.0 1056.5,2293.3 1066.2,2296.0 C1075.9,2298.7 1085.5,2300.4 1095.2,2302.3 C1104.9,2304.2 1114.5,2306.0 1124.2,2307.2 C1133.9,2308.4 1143.6,2308.9 1153.3,2309.6 C1163.0,2310.3 1172.6,2310.9 1182.3,2311.5 C1192.0,2312.1 1201.7,2312.8 1211.4,2313.0 C1221.1,2313.2 1230.7,2313.0 1240.4,2313.0 C1250.1,2313.0 1259.8,2313.0 1269.5,2313.0 C1279.2,2313.0 1288.6,2312.9 1298.5,2313.0 C1308.4,2313.1 1323.9,2313.4 1329.0,2313.5" fill="none" stroke="#00f" stroke-width="4.6" clip-path="url(#cp2)" stroke-linejoin="round"/>
<path d="M1400.1,2317.8 C1405.8,2318.2 1423.5,2319.5 1434.0,2320.2 C1444.5,2320.8 1453.4,2321.1 1463.1,2321.7 C1472.8,2322.3 1482.4,2322.8 1492.1,2323.6 C1501.8,2324.4 1509.2,2325.7 1521.2,2326.5 C1533.2,2327.3 1556.9,2328.2 1564.0,2328.5" fill="none" stroke="#00f" stroke-width="4.6" stroke-linejoin="round"/>
<path d="M179.8,1708.7 C181.3,1706.2 185.7,1699.0 188.7,1693.8 C191.7,1688.6 194.7,1682.6 197.7,1677.4 C200.7,1672.2 203.9,1665.7 206.6,1662.5 C209.3,1659.3 211.5,1657.3 214.0,1658.1 C216.5,1658.8 219.0,1661.3 221.5,1667.0 C224.0,1672.7 226.4,1682.6 228.9,1692.3 C231.4,1702.0 233.9,1714.2 236.4,1725.1 C238.9,1736.0 241.3,1747.5 243.8,1757.9 C246.3,1768.3 248.8,1779.2 251.3,1787.6 C253.8,1796.0 256.2,1802.8 258.7,1808.5 C261.2,1814.2 263.0,1819.2 266.2,1821.9 C269.4,1824.6 274.1,1825.2 278.1,1824.9 C282.1,1824.7 286.0,1823.1 290.0,1820.4 C294.0,1817.7 297.9,1812.5 301.9,1808.5 C305.9,1804.5 309.8,1799.8 313.8,1796.6 C317.8,1793.4 322.0,1790.5 325.7,1789.1 C329.4,1787.7 332.7,1787.0 336.2,1788.2 C339.7,1789.5 343.4,1792.7 346.6,1796.6 C349.8,1800.5 352.5,1805.5 355.5,1811.5 C358.5,1817.5 361.5,1824.9 364.5,1832.3 C367.5,1839.7 370.4,1848.4 373.4,1856.1 C376.4,1863.8 379.3,1871.0 382.3,1878.5 C385.3,1886.0 388.4,1893.9 391.3,1900.8 C394.2,1907.7 397.1,1912.2 400.0,1920.0 C402.9,1927.8 405.4,1938.1 408.9,1947.7 C412.4,1957.3 416.8,1968.5 420.8,1977.4 C424.8,1986.3 428.8,1994.8 432.8,2001.3 C436.8,2007.8 440.7,2012.0 444.7,2016.2 C448.7,2020.4 452.6,2024.3 456.6,2026.6 C460.6,2028.9 464.0,2030.0 468.5,2030.2 C473.0,2030.5 478.4,2029.4 483.4,2028.1 C488.4,2026.8 493.3,2024.3 498.3,2022.1 C503.3,2019.9 508.2,2017.4 513.2,2014.7 C518.2,2012.0 523.1,2008.9 528.1,2005.7 C533.1,2002.5 538.0,1998.5 543.0,1995.3 C548.0,1992.1 553.2,1988.9 557.9,1986.4 C562.6,1983.9 566.8,1980.9 571.3,1980.4 C575.8,1979.9 580.5,1981.7 584.7,1983.4 C588.9,1985.1 592.6,1987.6 596.6,1990.8 C600.6,1994.0 604.5,1998.6 608.5,2002.8 C612.5,2007.0 616.4,2011.5 620.4,2016.2 C624.4,2020.9 628.3,2025.8 632.3,2031.0 C636.3,2036.2 640.2,2042.0 644.2,2047.4 C648.2,2052.8 652.1,2058.8 656.1,2063.3 C660.1,2067.8 663.8,2071.3 668.3,2074.4 C672.8,2077.5 678.0,2079.5 683.2,2081.9 C688.4,2084.3 694.0,2086.5 699.5,2088.6 C705.0,2090.7 710.8,2093.1 716.0,2094.5 C721.2,2095.9 725.8,2096.4 731.0,2096.8 C736.2,2097.2 741.6,2096.7 747.0,2097.2 C752.4,2097.7 758.0,2098.9 763.5,2100.0 C769.0,2101.1 774.5,2102.1 780.0,2103.5 C785.5,2104.9 790.8,2106.9 796.5,2108.5 C802.2,2110.1 808.6,2111.7 814.0,2113.0 C819.4,2114.3 824.5,2114.8 829.0,2116.5 C833.5,2118.2 836.0,2120.1 841.0,2123.5 C846.0,2126.9 853.6,2133.2 859.1,2137.2 C864.6,2141.2 868.5,2144.1 874.0,2147.6 C879.5,2151.1 885.9,2154.9 891.9,2158.1 C897.9,2161.3 903.8,2164.0 909.8,2167.0 C915.8,2170.0 921.4,2173.2 927.6,2175.9 C933.8,2178.6 940.3,2180.2 947.0,2183.0 C953.7,2185.8 958.6,2188.5 968.0,2192.5 C977.4,2196.5 992.5,2201.7 1003.2,2206.8 C1013.9,2212.0 1022.6,2219.0 1032.3,2223.4 C1042.0,2227.8 1051.6,2229.6 1061.3,2233.1 C1071.0,2236.6 1080.7,2241.9 1090.4,2244.2 C1100.1,2246.5 1108.9,2246.1 1119.4,2246.7 C1129.9,2247.3 1143.6,2246.4 1153.3,2247.6 C1163.0,2248.8 1168.6,2251.2 1177.5,2253.9 C1186.4,2256.6 1196.8,2260.4 1206.5,2263.6 C1216.2,2266.8 1225.9,2270.6 1235.6,2273.3 C1245.3,2276.1 1254.9,2277.9 1264.6,2280.1 C1274.3,2282.3 1284.8,2285.1 1293.7,2286.4 C1302.6,2287.7 1309.8,2287.8 1317.9,2287.8 C1326.0,2287.8 1334.0,2287.1 1342.1,2286.4 C1350.2,2285.8 1358.2,2284.7 1366.3,2283.9 C1374.4,2283.1 1383.2,2282.7 1390.5,2281.5 C1397.8,2280.3 1402.5,2277.3 1409.8,2276.7 C1417.0,2276.0 1425.1,2277.4 1434.0,2277.6 C1442.9,2277.8 1455.0,2277.2 1463.1,2277.6 C1471.2,2278.0 1477.2,2279.2 1482.4,2280.1 C1487.6,2281.0 1490.5,2283.0 1494.5,2283.0 C1498.5,2283.0 1500.5,2280.9 1506.6,2280.1 C1512.6,2279.3 1521.2,2278.4 1530.8,2278.1 C1540.4,2277.8 1558.5,2278.1 1564.0,2278.1" fill="none" stroke="#00f" stroke-width="4.6" stroke-dasharray="19 7" stroke-linejoin="round"/>
<line x1="181.3" y1="2322.0" x2="181.3" y2="2402.0" stroke="#00f" stroke-width="3.3"/>
<line x1="195.3" y1="2272.7" x2="195.3" y2="2402.0" stroke="#00f" stroke-width="3.3"/>
<line x1="199.1" y1="2360.0" x2="199.1" y2="2402.0" stroke="#00f" stroke-width="4.5"/>
<line x1="209.6" y1="2365.0" x2="209.6" y2="2402.0" stroke="#00f" stroke-width="4.5"/>
<line x1="211.7" y1="2205.0" x2="211.7" y2="2402.0" stroke="#00f" stroke-width="2.6"/>
<line x1="214.0" y1="2256.4" x2="214.0" y2="2402.0" stroke="#00f" stroke-width="3.3"/>
<line x1="220.0" y1="2396.0" x2="220.0" y2="2402.0" stroke="#00f" stroke-width="2"/>
<line x1="243.2" y1="2362.0" x2="243.2" y2="2402.0" stroke="#00f" stroke-width="4.5"/>
<line x1="315.3" y1="2267.4" x2="315.3" y2="2402.0" stroke="#00f" stroke-width="3.3"/>
<line x1="339.7" y1="2390.4" x2="339.7" y2="2402.0" stroke="#00f" stroke-width="2.5"/>
<line x1="363.0" y1="2351.7" x2="363.0" y2="2402.0" stroke="#00f" stroke-width="4.5"/>
<line x1="374.9" y1="2395.7" x2="374.9" y2="2402.0" stroke="#00f" stroke-width="2"/>
<line x1="381.7" y1="2333.2" x2="381.7" y2="2402.0" stroke="#00f" stroke-width="4.5"/>
<line x1="429.3" y1="2240.8" x2="429.3" y2="2402.0" stroke="#00f" stroke-width="3.3"/>
<line x1="443.9" y1="2178.0" x2="443.9" y2="2402.0" stroke="#00f" stroke-width="3.3"/>
<line x1="529.7" y1="2384.4" x2="529.7" y2="2402.0" stroke="#00f" stroke-width="3.3"/>
<line x1="603.6" y1="2391.0" x2="603.6" y2="2402.0" stroke="#00f" stroke-width="3.3"/>
<line x1="665.3" y1="2273.7" x2="665.3" y2="2402.0" stroke="#00f" stroke-width="4.5"/>
<line x1="675.0" y1="2396.0" x2="675.0" y2="2402.0" stroke="#00f" stroke-width="2"/>
<line x1="685.5" y1="2363.6" x2="685.5" y2="2402.0" stroke="#00f" stroke-width="3.3"/>
<line x1="714.7" y1="2379.0" x2="714.7" y2="2402.0" stroke="#00f" stroke-width="4.5"/>
<line x1="744.5" y1="2372.0" x2="744.5" y2="2402.0" stroke="#00f" stroke-width="3.3"/>
<line x1="806.1" y1="2357.6" x2="806.1" y2="2402.0" stroke="#00f" stroke-width="2.5"/>
<line x1="863.0" y1="2382.0" x2="863.0" y2="2402.0" stroke="#00f" stroke-width="2.5"/>
<line x1="883.8" y1="2362.0" x2="883.8" y2="2402.0" stroke="#00f" stroke-width="4.5"/>
<line x1="895.8" y1="2396.0" x2="895.8" y2="2402.0" stroke="#00f" stroke-width="2"/>
<line x1="1360.9" y1="2377.3" x2="1360.9" y2="2402.0" stroke="#00f" stroke-width="4.5"/>
<line x1="1527.0" y1="2396.0" x2="1527.0" y2="2402.0" stroke="#00f" stroke-width="2"/>
<text transform="translate(179.9,2166.1) scale(1.023,1.045)" font-size="60" fill="#00f">S</text>
<text transform="translate(220.9,2176.5) scale(1.023,1.03)" font-size="36" fill="#00f">43,40-38</text>
<text transform="translate(412.2,2161.1) scale(1.023,1.045)" font-size="60" fill="#00f">S</text>
<text transform="translate(453.2,2172.4) scale(1.023,1.03)" font-size="36" fill="#00f">25</text>
<text transform="translate(361.5,2225.7) scale(1.023,1.045)" font-size="60" fill="#00f">S</text>
<text transform="translate(402.5,2236.1) scale(1.023,1.03)" font-size="36" fill="#00f">26</text>
<text transform="translate(285.6,2245.0) scale(1.023,1.045)" font-size="60" fill="#00f">S</text>
<text transform="translate(326.6,2255.5) scale(1.023,1.03)" font-size="36" fill="#00f">33</text>
<text transform="translate(316.9,2317.1) scale(1.023,1.045)" font-size="60" fill="#00f">S</text>
<text transform="translate(357.9,2328.7) scale(1.023,1.03)" font-size="36" fill="#00f">29,27</text>
<text transform="translate(217.1,2346.3) scale(1.023,1.045)" font-size="60" fill="#00f">S</text>
<text transform="translate(258.1,2356.7) scale(1.023,1.03)" font-size="36" fill="#00f">35</text>
<text transform="translate(630.7,2247.5) scale(1.023,1.045)" font-size="60" fill="#00f">S</text>
<text transform="translate(671.7,2257.9) scale(1.023,1.03)" font-size="36" fill="#00f">20</text>
<text transform="translate(668.6,2338.9) scale(1.023,1.045)" font-size="60" fill="#00f">S</text>
<text transform="translate(712.1,2348.7) scale(1.023,1.03)" font-size="36" fill="#00f">18,16,14,13</text>
<text transform="translate(857.7,2303.1) scale(1.023,1.045)" font-size="60" fill="#00f">S</text>
<text transform="translate(900.3,2313.0) scale(1.023,1.03)" font-size="36" fill="#00f">11</text>
<text transform="translate(1339.2,2364.4) scale(1.023,1.045)" font-size="60" fill="#00f">S</text>
<text transform="translate(1380.2,2373.5) scale(1.023,1.03)" font-size="36" fill="#00f">7</text>
<line x1="772.3" y1="2890.5" x2="772.3" y2="3188.4" stroke="#888" stroke-width="10"/>
<path d="M179.8,2495.1 C181.3,2492.6 185.7,2485.4 188.7,2480.2 C191.7,2475.0 194.7,2469.0 197.7,2463.8 C200.7,2458.6 203.9,2452.1 206.6,2448.9 C209.3,2445.7 211.5,2443.8 214.0,2444.5 C216.5,2445.2 219.0,2447.7 221.5,2453.4 C224.0,2459.1 226.4,2469.0 228.9,2478.7 C231.4,2488.4 233.9,2500.6 236.4,2511.5 C238.9,2522.4 241.3,2533.9 243.8,2544.3 C246.3,2554.7 248.8,2565.6 251.3,2574.0 C253.8,2582.4 256.2,2589.2 258.7,2594.9 C261.2,2600.6 263.0,2605.6 266.2,2608.3 C269.4,2611.0 274.1,2611.6 278.1,2611.3 C282.1,2611.1 286.0,2609.5 290.0,2606.8 C294.0,2604.1 297.9,2598.9 301.9,2594.9 C305.9,2590.9 309.8,2586.2 313.8,2583.0 C317.8,2579.8 322.0,2576.9 325.7,2575.5 C329.4,2574.1 332.7,2573.3 336.2,2574.6 C339.7,2575.8 343.4,2579.1 346.6,2583.0 C349.8,2586.9 352.5,2592.0 355.5,2597.9 C358.5,2603.8 361.5,2611.3 364.5,2618.7 C367.5,2626.1 370.4,2634.8 373.4,2642.5 C376.4,2650.2 379.3,2657.5 382.3,2664.9 C385.3,2672.3 388.4,2680.3 391.3,2687.2 C394.2,2694.1 397.1,2698.6 400.0,2706.4 C402.9,2714.2 405.4,2724.5 408.9,2734.1 C412.4,2743.7 416.8,2754.9 420.8,2763.8 C424.8,2772.7 428.8,2781.2 432.8,2787.7 C436.8,2794.2 440.7,2798.4 444.7,2802.6 C448.7,2806.8 452.6,2810.7 456.6,2813.0 C460.6,2815.3 464.0,2816.3 468.5,2816.6 C473.0,2816.8 478.4,2815.8 483.4,2814.5 C488.4,2813.2 493.3,2810.7 498.3,2808.5 C503.3,2806.3 508.2,2803.8 513.2,2801.1 C518.2,2798.4 523.1,2795.3 528.1,2792.1 C533.1,2788.9 538.0,2784.9 543.0,2781.7 C548.0,2778.5 553.2,2775.3 557.9,2772.8 C562.6,2770.3 566.8,2767.3 571.3,2766.8 C575.8,2766.3 580.5,2768.1 584.7,2769.8 C588.9,2771.5 592.6,2774.0 596.6,2777.2 C600.6,2780.4 604.5,2785.0 608.5,2789.2 C612.5,2793.4 616.4,2797.9 620.4,2802.6 C624.4,2807.3 628.3,2812.2 632.3,2817.4 C636.3,2822.6 640.2,2828.4 644.2,2833.8 C648.2,2839.2 652.1,2845.2 656.1,2849.7 C660.1,2854.2 663.8,2857.7 668.3,2860.8 C672.8,2863.9 678.0,2865.9 683.2,2868.3 C688.4,2870.7 694.0,2872.9 699.5,2875.0 C705.0,2877.1 710.8,2879.5 716.0,2880.9 C721.2,2882.3 725.8,2882.8 731.0,2883.2 C736.2,2883.7 741.6,2883.1 747.0,2883.6 C752.4,2884.1 758.0,2885.3 763.5,2886.4 C769.0,2887.5 774.5,2888.5 780.0,2889.9 C785.5,2891.3 790.8,2893.3 796.5,2894.9 C802.2,2896.5 808.6,2898.1 814.0,2899.4 C819.4,2900.7 824.5,2901.2 829.0,2902.9 C833.5,2904.7 836.0,2906.5 841.0,2909.9 C846.0,2913.3 853.6,2919.6 859.1,2923.6 C864.6,2927.6 868.5,2930.5 874.0,2934.0 C879.5,2937.5 885.9,2941.3 891.9,2944.5 C897.9,2947.7 903.8,2950.4 909.8,2953.4 C915.8,2956.4 921.4,2959.6 927.6,2962.3 C933.8,2965.0 940.3,2966.6 947.0,2969.4 C953.7,2972.2 958.6,2974.9 968.0,2978.9 C977.4,2982.9 992.5,2988.1 1003.2,2993.2 C1013.9,2998.4 1022.6,3005.4 1032.3,3009.8 C1042.0,3014.2 1051.6,3016.0 1061.3,3019.5 C1071.0,3023.0 1080.7,3028.3 1090.4,3030.6 C1100.1,3032.9 1108.9,3032.5 1119.4,3033.1 C1129.9,3033.7 1143.6,3032.8 1153.3,3034.0 C1163.0,3035.2 1168.6,3037.6 1177.5,3040.3 C1186.4,3043.0 1196.8,3046.8 1206.5,3050.0 C1216.2,3053.2 1225.9,3057.0 1235.6,3059.7 C1245.3,3062.5 1254.9,3064.3 1264.6,3066.5 C1274.3,3068.7 1284.8,3071.5 1293.7,3072.8 C1302.6,3074.1 1309.8,3074.2 1317.9,3074.2 C1326.0,3074.2 1334.0,3073.5 1342.1,3072.8 C1350.2,3072.2 1358.2,3071.1 1366.3,3070.3 C1374.4,3069.5 1383.2,3069.1 1390.5,3067.9 C1397.8,3066.7 1402.5,3063.8 1409.8,3063.1 C1417.0,3062.4 1425.1,3063.8 1434.0,3064.0 C1442.9,3064.2 1455.0,3063.6 1463.1,3064.0 C1471.2,3064.4 1477.2,3065.6 1482.4,3066.5 C1487.6,3067.4 1490.5,3069.4 1494.5,3069.4 C1498.5,3069.4 1500.5,3067.3 1506.6,3066.5 C1512.6,3065.7 1521.2,3064.8 1530.8,3064.5 C1540.4,3064.2 1558.5,3064.5 1564.0,3064.5" fill="none" stroke="#00f" stroke-width="4.6" stroke-dasharray="19 7" stroke-linejoin="round"/>
<path d="M178.7,3184.0 C186.1,3183.6 208.5,3182.7 223.4,3181.8 C238.3,3180.9 253.1,3180.2 268.0,3178.7 C282.9,3177.2 297.8,3175.0 312.7,3172.9 C327.6,3170.8 346.2,3167.8 357.4,3166.2 C368.6,3164.6 372.4,3164.4 379.8,3163.5 C387.2,3162.6 393.8,3162.3 402.1,3161.0 C410.4,3159.7 420.2,3157.9 429.8,3155.9 C439.4,3153.9 449.7,3151.8 459.6,3148.8 C469.5,3145.8 479.5,3142.4 489.4,3138.0 C499.3,3133.6 510.2,3127.8 519.1,3122.5 C528.0,3117.2 535.5,3111.8 543.0,3106.0 C550.5,3100.2 557.3,3093.9 563.8,3087.5 C570.2,3081.1 576.7,3073.6 581.7,3067.6 C586.7,3061.6 591.6,3054.2 593.6,3051.5" fill="none" stroke="#00f" stroke-width="4.6" stroke-linejoin="round"/>
<path d="M632.3,2990.6 C634.3,2988.1 640.2,2980.4 644.2,2975.7 C648.2,2971.0 652.1,2966.3 656.1,2962.3 C660.1,2958.3 664.1,2954.2 668.1,2951.9 C672.1,2949.6 676.0,2948.3 680.0,2948.3 C684.0,2948.3 687.9,2949.8 691.9,2951.9 C695.9,2954.0 699.8,2957.3 703.8,2960.8 C707.8,2964.3 711.7,2968.5 715.7,2972.7 C719.7,2976.9 723.6,2981.6 727.6,2986.1 C731.6,2990.6 735.5,2995.1 739.5,2999.6 C743.5,3004.1 747.3,3008.4 751.5,3013.0 C755.7,3017.6 760.2,3022.7 764.9,3027.0 C769.6,3031.3 774.8,3035.4 779.8,3038.8 C784.8,3042.2 789.7,3045.0 794.7,3047.3 C799.7,3049.6 804.6,3051.3 809.6,3052.6 C814.6,3053.9 819.5,3054.8 824.5,3055.3 C829.5,3055.8 834.4,3055.6 839.4,3055.5 C844.4,3055.4 849.2,3055.3 854.2,3054.7 C859.2,3054.1 864.1,3052.8 869.1,3051.7 C874.1,3050.5 879.0,3049.0 884.0,3047.8 C889.0,3046.7 893.9,3045.8 898.9,3044.8 C903.9,3043.8 908.8,3042.6 913.8,3041.8 C918.8,3041.0 923.7,3040.5 928.7,3040.1 C933.7,3039.7 938.6,3039.2 943.6,3039.2 C948.6,3039.2 953.5,3039.5 958.5,3040.1 C963.5,3040.7 968.4,3041.5 973.4,3042.7 C978.4,3043.9 983.3,3045.4 988.3,3047.2 C993.3,3048.9 998.2,3051.0 1003.2,3053.2 C1008.2,3055.4 1013.1,3058.1 1018.1,3060.6 C1023.1,3063.1 1028.0,3065.6 1033.0,3068.1 C1038.0,3070.6 1042.8,3073.0 1047.8,3075.5 C1052.8,3078.0 1057.7,3080.7 1062.7,3083.0 C1067.7,3085.3 1072.6,3087.3 1077.6,3089.5 C1082.6,3091.7 1087.5,3094.2 1092.5,3096.4 C1097.5,3098.7 1100.0,3099.9 1107.4,3103.0 C1114.9,3106.1 1126.0,3111.6 1137.2,3115.2 C1148.4,3118.8 1162.1,3121.9 1174.5,3124.5 C1186.9,3127.1 1199.3,3129.1 1211.7,3130.8 C1224.1,3132.5 1236.5,3133.8 1248.9,3134.5 C1261.3,3135.2 1267.6,3135.2 1286.2,3135.3 C1304.8,3135.4 1340.1,3135.4 1360.6,3135.3 C1381.1,3135.2 1398.5,3135.1 1409.0,3134.5 C1419.5,3133.9 1418.6,3132.3 1423.9,3131.8 C1429.2,3131.3 1437.9,3131.6 1440.7,3131.6" fill="none" stroke="#00f" stroke-width="4.6" stroke-linejoin="round"/>
<path d="M1552.3,3129.0 L1564.0,3127.1" fill="none" stroke="#00f" stroke-width="4.6" stroke-linejoin="round"/>
<line x1="645.1" y1="3178.3" x2="645.1" y2="3188.4" stroke="#00f" stroke-width="2"/>
<line x1="665.7" y1="3094.9" x2="665.7" y2="3188.4" stroke="#00f" stroke-width="4.5"/>
<line x1="683.0" y1="3112.1" x2="683.0" y2="3188.4" stroke="#00f" stroke-width="3.3"/>
<line x1="688.0" y1="3145.5" x2="688.0" y2="3188.4" stroke="#00f" stroke-width="2.5"/>
<line x1="893.0" y1="3181.2" x2="893.0" y2="3188.4" stroke="#00f" stroke-width="2.5"/>
<line x1="958.5" y1="3142.5" x2="958.5" y2="3188.4" stroke="#00f" stroke-width="3.3"/>
<line x1="966.8" y1="3134.2" x2="966.8" y2="3188.4" stroke="#00f" stroke-width="2.5"/>
<line x1="1510.6" y1="3171.0" x2="1510.6" y2="3188.4" stroke="#00f" stroke-width="3.3"/>
<line x1="1522.6" y1="3178.5" x2="1522.6" y2="3188.4" stroke="#00f" stroke-width="2"/>
<line x1="379.7" y1="3182.0" x2="379.7" y2="3188.4" stroke="#00f" stroke-width="3.3"/>
<text transform="translate(596.7,3062.7) scale(1.023,1.04)" font-size="60" fill="#00f">T</text>
<text transform="translate(634.3,3075.5) scale(1.023,1.03)" font-size="36" fill="#00f">35</text>
<text transform="translate(664.6,3062.7) scale(1.023,1.04)" font-size="60" fill="#00f">T</text>
<text transform="translate(702.2,3075.5) scale(1.023,1.03)" font-size="36" fill="#00f">33</text>
<text transform="translate(683.9,3134.2) scale(1.023,1.04)" font-size="60" fill="#00f">T</text>
<text transform="translate(721.5,3147.0) scale(1.023,1.03)" font-size="36" fill="#00f">32</text>
<text transform="translate(896.6,3103.8) scale(1.023,1.04)" font-size="60" fill="#00f">T</text>
<text transform="translate(937.2,3116.3) scale(1.023,1.03)" font-size="36" fill="#00f">16,15</text>
<text transform="translate(1444.8,3140.1) scale(1.023,1.04)" font-size="60" fill="#00f">T</text>
<text transform="translate(1485.4,3153.1) scale(1.023,1.03)" font-size="36" fill="#00f">10,9</text>
<g stroke="#000" stroke-width="5.5" fill="none" stroke-linecap="butt">
<line x1="177.5" y1="29.6" x2="177.5" y2="3201.5"/>
<line x1="1566.2" y1="29.6" x2="1566.2" y2="3201.5"/>
<line x1="164.5" y1="42.6" x2="1566.2" y2="42.6"/>
<line x1="164.5" y1="829.1" x2="1579.2" y2="829.1"/>
<line x1="164.5" y1="1615.6" x2="1579.2" y2="1615.6"/>
<line x1="164.5" y1="2402.0" x2="1579.2" y2="2402.0"/>
<line x1="164.5" y1="3188.5" x2="1579.2" y2="3188.5"/>
</g>
<g stroke="#000" stroke-width="5.1" fill="none">
<line x1="316.4" y1="29.6" x2="316.4" y2="42.6"/>
<line x1="316.4" y1="817.1" x2="316.4" y2="841.1"/>
<line x1="316.4" y1="1603.6" x2="316.4" y2="1627.6"/>
<line x1="316.4" y1="2390.0" x2="316.4" y2="2414.0"/>
<line x1="316.4" y1="3188.5" x2="316.4" y2="3201.5"/>
<line x1="455.2" y1="29.6" x2="455.2" y2="42.6"/>
<line x1="455.2" y1="817.1" x2="455.2" y2="841.1"/>
<line x1="455.2" y1="1603.6" x2="455.2" y2="1627.6"/>
<line x1="455.2" y1="2390.0" x2="455.2" y2="2414.0"/>
<line x1="455.2" y1="3188.5" x2="455.2" y2="3201.5"/>
<line x1="594.1" y1="29.6" x2="594.1" y2="42.6"/>
<line x1="594.1" y1="817.1" x2="594.1" y2="841.1"/>
<line x1="594.1" y1="1603.6" x2="594.1" y2="1627.6"/>
<line x1="594.1" y1="2390.0" x2="594.1" y2="2414.0"/>
<line x1="594.1" y1="3188.5" x2="594.1" y2="3201.5"/>
<line x1="733.0" y1="29.6" x2="733.0" y2="42.6"/>
<line x1="733.0" y1="817.1" x2="733.0" y2="841.1"/>
<line x1="733.0" y1="1603.6" x2="733.0" y2="1627.6"/>
<line x1="733.0" y1="2390.0" x2="733.0" y2="2414.0"/>
<line x1="733.0" y1="3188.5" x2="733.0" y2="3201.5"/>
<line x1="871.9" y1="29.6" x2="871.9" y2="42.6"/>
<line x1="871.9" y1="817.1" x2="871.9" y2="841.1"/>
<line x1="871.9" y1="1603.6" x2="871.9" y2="1627.6"/>
<line x1="871.9" y1="2390.0" x2="871.9" y2="2414.0"/>
<line x1="871.9" y1="3188.5" x2="871.9" y2="3201.5"/>
<line x1="1010.7" y1="29.6" x2="1010.7" y2="42.6"/>
<line x1="1010.7" y1="817.1" x2="1010.7" y2="841.1"/>
<line x1="1010.7" y1="1603.6" x2="1010.7" y2="1627.6"/>
<line x1="1010.7" y1="2390.0" x2="1010.7" y2="2414.0"/>
<line x1="1010.7" y1="3188.5" x2="1010.7" y2="3201.5"/>
<line x1="1149.6" y1="29.6" x2="1149.6" y2="42.6"/>
<line x1="1149.6" y1="817.1" x2="1149.6" y2="841.1"/>
<line x1="1149.6" y1="1603.6" x2="1149.6" y2="1627.6"/>
<line x1="1149.6" y1="2390.0" x2="1149.6" y2="2414.0"/>
<line x1="1149.6" y1="3188.5" x2="1149.6" y2="3201.5"/>
<line x1="1288.5" y1="29.6" x2="1288.5" y2="42.6"/>
<line x1="1288.5" y1="817.1" x2="1288.5" y2="841.1"/>
<line x1="1288.5" y1="1603.6" x2="1288.5" y2="1627.6"/>
<line x1="1288.5" y1="2390.0" x2="1288.5" y2="2414.0"/>
<line x1="1288.5" y1="3188.5" x2="1288.5" y2="3201.5"/>
<line x1="1427.3" y1="29.6" x2="1427.3" y2="42.6"/>
<line x1="1427.3" y1="817.1" x2="1427.3" y2="841.1"/>
<line x1="1427.3" y1="1603.6" x2="1427.3" y2="1627.6"/>
<line x1="1427.3" y1="2390.0" x2="1427.3" y2="2414.0"/>
<line x1="1427.3" y1="3188.5" x2="1427.3" y2="3201.5"/>
<line x1="164.5" y1="716.7" x2="177.5" y2="716.7"/>
<line x1="164.5" y1="604.3" x2="177.5" y2="604.3"/>
<line x1="164.5" y1="492.0" x2="177.5" y2="492.0"/>
<line x1="164.5" y1="379.6" x2="177.5" y2="379.6"/>
<line x1="164.5" y1="267.3" x2="177.5" y2="267.3"/>
<line x1="164.5" y1="154.9" x2="177.5" y2="154.9"/>
<line x1="1566.2" y1="583.4" x2="1579.2" y2="583.4"/>
<line x1="1566.2" y1="337.8" x2="1579.2" y2="337.8"/>
<line x1="1566.2" y1="92.2" x2="1579.2" y2="92.2"/>
<line x1="164.5" y1="1503.2" x2="177.5" y2="1503.2"/>
<line x1="164.5" y1="1390.8" x2="177.5" y2="1390.8"/>
<line x1="164.5" y1="1278.5" x2="177.5" y2="1278.5"/>
<line x1="164.5" y1="1166.1" x2="177.5" y2="1166.1"/>
<line x1="164.5" y1="1053.8" x2="177.5" y2="1053.8"/>
<line x1="164.5" y1="941.4" x2="177.5" y2="941.4"/>
<line x1="1566.2" y1="1369.9" x2="1579.2" y2="1369.9"/>
<line x1="1566.2" y1="1124.3" x2="1579.2" y2="1124.3"/>
<line x1="1566.2" y1="878.7" x2="1579.2" y2="878.7"/>
<line x1="164.5" y1="2289.7" x2="177.5" y2="2289.7"/>
<line x1="164.5" y1="2177.3" x2="177.5" y2="2177.3"/>
<line x1="164.5" y1="2065.0" x2="177.5" y2="2065.0"/>
<line x1="164.5" y1="1952.6" x2="177.5" y2="1952.6"/>
<line x1="164.5" y1="1840.3" x2="177.5" y2="1840.3"/>
<line x1="164.5" y1="1727.9" x2="177.5" y2="1727.9"/>
<line x1="1566.2" y1="2156.4" x2="1579.2" y2="2156.4"/>
<line x1="1566.2" y1="1910.8" x2="1579.2" y2="1910.8"/>
<line x1="1566.2" y1="1665.2" x2="1579.2" y2="1665.2"/>
<line x1="164.5" y1="3076.1" x2="177.5" y2="3076.1"/>
<line x1="164.5" y1="2963.7" x2="177.5" y2="2963.7"/>
<line x1="164.5" y1="2851.4" x2="177.5" y2="2851.4"/>
<line x1="164.5" y1="2739.0" x2="177.5" y2="2739.0"/>
<line x1="164.5" y1="2626.7" x2="177.5" y2="2626.7"/>
<line x1="164.5" y1="2514.3" x2="177.5" y2="2514.3"/>
<line x1="1566.2" y1="2942.8" x2="1579.2" y2="2942.8"/>
<line x1="1566.2" y1="2697.2" x2="1579.2" y2="2697.2"/>
<line x1="1566.2" y1="2451.6" x2="1579.2" y2="2451.6"/>
</g>
<text transform="translate(161.5,733.1) scale(1.0,1.035)" font-size="43.6" fill="#000" text-anchor="end">0.1</text>
<text transform="translate(161.5,620.7) scale(1.0,1.035)" font-size="43.6" fill="#000" text-anchor="end">0.2</text>
<text transform="translate(161.5,508.4) scale(1.0,1.035)" font-size="43.6" fill="#000" text-anchor="end">0.3</text>
<text transform="translate(161.5,396.0) scale(1.0,1.035)" font-size="43.6" fill="#000" text-anchor="end">0.4</text>
<text transform="translate(161.5,283.7) scale(1.0,1.035)" font-size="43.6" fill="#000" text-anchor="end">0.5</text>
<text transform="translate(161.5,171.3) scale(1.0,1.035)" font-size="43.6" fill="#000" text-anchor="end">0.6</text>
<text transform="translate(161.5,76.3) scale(1.0,1.035)" font-size="43.6" fill="#000" text-anchor="end">0.7</text>
<text transform="translate(159.5,822.7) scale(1.0,1.035)" font-size="43.6" fill="#000" text-anchor="end">0</text>
<text transform="translate(1597.2,602.0) scale(1.0,1.035)" font-size="43.6" fill="#000" text-anchor="start">0.5</text>
<text transform="translate(1597.2,356.4) scale(1.0,1.035)" font-size="43.6" fill="#000" text-anchor="start">1</text>
<text transform="translate(1597.2,110.8) scale(1.0,1.035)" font-size="43.6" fill="#000" text-anchor="start">1.5</text>
<text transform="translate(1597.2,822.7) scale(1.0,1.035)" font-size="43.6" fill="#000" text-anchor="start">0</text>
<text transform="translate(161.5,1519.6) scale(1.0,1.035)" font-size="43.6" fill="#000" text-anchor="end">0.1</text>
<text transform="translate(161.5,1407.2) scale(1.0,1.035)" font-size="43.6" fill="#000" text-anchor="end">0.2</text>
<text transform="translate(161.5,1294.9) scale(1.0,1.035)" font-size="43.6" fill="#000" text-anchor="end">0.3</text>
<text transform="translate(161.5,1182.5) scale(1.0,1.035)" font-size="43.6" fill="#000" text-anchor="end">0.4</text>
<text transform="translate(161.5,1070.2) scale(1.0,1.035)" font-size="43.6" fill="#000" text-anchor="end">0.5</text>
<text transform="translate(161.5,957.8) scale(1.0,1.035)" font-size="43.6" fill="#000" text-anchor="end">0.6</text>
<text transform="translate(161.5,863.8) scale(1.0,1.035)" font-size="43.6" fill="#000" text-anchor="end">0.7</text>
<text transform="translate(159.5,1609.2) scale(1.0,1.035)" font-size="43.6" fill="#000" text-anchor="end">0</text>
<text transform="translate(1597.2,1388.5) scale(1.0,1.035)" font-size="43.6" fill="#000" text-anchor="start">0.5</text>
<text transform="translate(1597.2,1142.9) scale(1.0,1.035)" font-size="43.6" fill="#000" text-anchor="start">1</text>
<text transform="translate(1597.2,897.3) scale(1.0,1.035)" font-size="43.6" fill="#000" text-anchor="start">1.5</text>
<text transform="translate(1597.2,1609.2) scale(1.0,1.035)" font-size="43.6" fill="#000" text-anchor="start">0</text>
<text transform="translate(161.5,2306.1) scale(1.0,1.035)" font-size="43.6" fill="#000" text-anchor="end">0.1</text>
<text transform="translate(161.5,2193.7) scale(1.0,1.035)" font-size="43.6" fill="#000" text-anchor="end">0.2</text>
<text transform="translate(161.5,2081.4) scale(1.0,1.035)" font-size="43.6" fill="#000" text-anchor="end">0.3</text>
<text transform="translate(161.5,1969.0) scale(1.0,1.035)" font-size="43.6" fill="#000" text-anchor="end">0.4</text>
<text transform="translate(161.5,1856.7) scale(1.0,1.035)" font-size="43.6" fill="#000" text-anchor="end">0.5</text>
<text transform="translate(161.5,1744.3) scale(1.0,1.035)" font-size="43.6" fill="#000" text-anchor="end">0.6</text>
<text transform="translate(161.5,1648.2) scale(1.0,1.035)" font-size="43.6" fill="#000" text-anchor="end">0.7</text>
<text transform="translate(159.5,2395.7) scale(1.0,1.035)" font-size="43.6" fill="#000" text-anchor="end">0</text>
<text transform="translate(1597.2,2175.0) scale(1.0,1.035)" font-size="43.6" fill="#000" text-anchor="start">0.5</text>
<text transform="translate(1597.2,1929.4) scale(1.0,1.035)" font-size="43.6" fill="#000" text-anchor="start">1</text>
<text transform="translate(1597.2,1683.8) scale(1.0,1.035)" font-size="43.6" fill="#000" text-anchor="start">1.5</text>
<text transform="translate(1597.2,2395.7) scale(1.0,1.035)" font-size="43.6" fill="#000" text-anchor="start">0</text>
<text transform="translate(161.5,3092.5) scale(1.0,1.035)" font-size="43.6" fill="#000" text-anchor="end">0.1</text>
<text transform="translate(161.5,2980.1) scale(1.0,1.035)" font-size="43.6" fill="#000" text-anchor="end">0.2</text>
<text transform="translate(161.5,2867.8) scale(1.0,1.035)" font-size="43.6" fill="#000" text-anchor="end">0.3</text>
<text transform="translate(161.5,2755.4) scale(1.0,1.035)" font-size="43.6" fill="#000" text-anchor="end">0.4</text>
<text transform="translate(161.5,2643.1) scale(1.0,1.035)" font-size="43.6" fill="#000" text-anchor="end">0.5</text>
<text transform="translate(161.5,2530.7) scale(1.0,1.035)" font-size="43.6" fill="#000" text-anchor="end">0.6</text>
<text transform="translate(161.5,2437.0) scale(1.0,1.035)" font-size="43.6" fill="#000" text-anchor="end">0.7</text>
<text transform="translate(159.5,3182.1) scale(1.0,1.035)" font-size="43.6" fill="#000" text-anchor="end">0</text>
<text transform="translate(1597.2,2961.4) scale(1.0,1.035)" font-size="43.6" fill="#000" text-anchor="start">0.5</text>
<text transform="translate(1597.2,2715.8) scale(1.0,1.035)" font-size="43.6" fill="#000" text-anchor="start">1</text>
<text transform="translate(1597.2,2470.2) scale(1.0,1.035)" font-size="43.6" fill="#000" text-anchor="start">1.5</text>
<text transform="translate(1597.2,3182.1) scale(1.0,1.035)" font-size="43.6" fill="#000" text-anchor="start">0</text>
<text transform="translate(183.0,3246.8) scale(1.0,1.035)" font-size="43.6" fill="#000" text-anchor="middle">300</text>
<text transform="translate(321.9,3246.8) scale(1.0,1.035)" font-size="43.6" fill="#000" text-anchor="middle">350</text>
<text transform="translate(460.7,3246.8) scale(1.0,1.035)" font-size="43.6" fill="#000" text-anchor="middle">400</text>
<text transform="translate(599.6,3246.8) scale(1.0,1.035)" font-size="43.6" fill="#000" text-anchor="middle">450</text>
<text transform="translate(738.5,3246.8) scale(1.0,1.035)" font-size="43.6" fill="#000" text-anchor="middle">500</text>
<text transform="translate(877.4,3246.8) scale(1.0,1.035)" font-size="43.6" fill="#000" text-anchor="middle">550</text>
<text transform="translate(1016.2,3246.8) scale(1.0,1.035)" font-size="43.6" fill="#000" text-anchor="middle">600</text>
<text transform="translate(1155.1,3246.8) scale(1.0,1.035)" font-size="43.6" fill="#000" text-anchor="middle">650</text>
<text transform="translate(1294.0,3246.8) scale(1.0,1.035)" font-size="43.6" fill="#000" text-anchor="middle">700</text>
<text transform="translate(1432.8,3246.8) scale(1.0,1.035)" font-size="43.6" fill="#000" text-anchor="middle">750</text>
<text transform="translate(1571.7,3246.8) scale(1.0,1.035)" font-size="43.6" fill="#000" text-anchor="middle">800</text>
<text transform="translate(872.0,3317.0) scale(1.0,1)" font-size="44" fill="#000" text-anchor="middle" font-weight="bold">Wavelength / nm</text>
<text transform="translate(1716.0,427.8) rotate(-90) scale(1.0,1)" font-size="44" fill="#000" text-anchor="middle" font-weight="bold">Absorbance / Arbit. Units</text>
<text transform="translate(57.5,429.2) rotate(-90) scale(1.0,1)" font-size="44" fill="#000" text-anchor="middle" font-weight="bold">f</text>
<text transform="translate(1716.0,1214.3) rotate(-90) scale(1.0,1)" font-size="44" fill="#000" text-anchor="middle" font-weight="bold">Absorbance / Arbit. Units</text>
<text transform="translate(57.5,1215.7) rotate(-90) scale(1.0,1)" font-size="44" fill="#000" text-anchor="middle" font-weight="bold">f</text>
<text transform="translate(1716.0,2000.8) rotate(-90) scale(1.0,1)" font-size="44" fill="#000" text-anchor="middle" font-weight="bold">Absorbance / Arbit. Units</text>
<text transform="translate(57.5,2002.2) rotate(-90) scale(1.0,1)" font-size="44" fill="#000" text-anchor="middle" font-weight="bold">f</text>
<text transform="translate(1716.0,2787.2) rotate(-90) scale(1.0,1)" font-size="44" fill="#000" text-anchor="middle" font-weight="bold">Absorbance / Arbit. Units</text>
<text transform="translate(57.5,2788.6) rotate(-90) scale(1.0,1)" font-size="44" fill="#000" text-anchor="middle" font-weight="bold">f</text>
<text transform="translate(857.2,136.9) scale(1.014,1)" font-size="92" fill="#000" text-anchor="middle" font-weight="bold">non-reduced</text>
<text transform="translate(857.9,222.2) scale(1.023,1)" font-size="65" fill="#000" text-anchor="middle" font-weight="bold">(singlet)</text>
<text transform="translate(1494.6,133.6) scale(1.0,1.03)" font-size="75" fill="#000" text-anchor="start" font-weight="bold">A</text>
<text transform="translate(869.3,923.4) scale(1.014,1)" font-size="92" fill="#f00" text-anchor="middle" font-weight="bold">singly reduced</text>
<text transform="translate(871.4,1010.6) scale(1.023,1)" font-size="65" fill="#f00" text-anchor="middle" font-weight="bold">(doublet)</text>
<text transform="translate(1494.6,920.1) scale(1.0,1.03)" font-size="75" fill="#000" text-anchor="start" font-weight="bold">B</text>
<text transform="translate(869.3,1709.9) scale(1.014,1)" font-size="92" fill="#00f" text-anchor="middle" font-weight="bold">doubly reduced</text>
<text transform="translate(870.8,1797.1) scale(1.023,1)" font-size="65" fill="#00f" text-anchor="middle" font-weight="bold">(singlet)</text>
<text transform="translate(1494.6,1706.6) scale(1.0,1.03)" font-size="75" fill="#000" text-anchor="start" font-weight="bold">C</text>
<text transform="translate(869.3,2496.3) scale(1.014,1)" font-size="92" fill="#00f" text-anchor="middle" font-weight="bold">doubly reduced</text>
<text transform="translate(870.8,2583.5) scale(1.023,1)" font-size="65" fill="#00f" text-anchor="middle" font-weight="bold">(triplet)</text>
<text transform="translate(1494.6,2493.0) scale(1.0,1.03)" font-size="75" fill="#000" text-anchor="start" font-weight="bold">D</text>
<text transform="translate(1391.5,221.5) scale(1.023,1)" font-size="61" fill="#000" text-anchor="end">experiment</text>
<text transform="translate(1391.5,294.8) scale(1.023,1)" font-size="61" fill="#000" text-anchor="end">calculated</text>
<text transform="translate(1391.5,392) scale(1.023,1)" text-anchor="end" fill="#000"><tspan font-family="'Liberation Serif', 'DejaVu Serif', serif" font-size="66" dy="-9">λ</tspan><tspan font-size="35" dy="9" dx="2">RR</tspan></text>
<line x1="1410" y1="205.8" x2="1492" y2="205.8" stroke="#000" stroke-width="4.4" stroke-dasharray="23.3 6"/>
<line x1="1410" y1="279.3" x2="1497.5" y2="279.3" stroke="#000" stroke-width="5.4"/>
<line x1="1410" y1="367" x2="1497.5" y2="367" stroke="#888" stroke-width="11"/>
</svg>
</body></html>
